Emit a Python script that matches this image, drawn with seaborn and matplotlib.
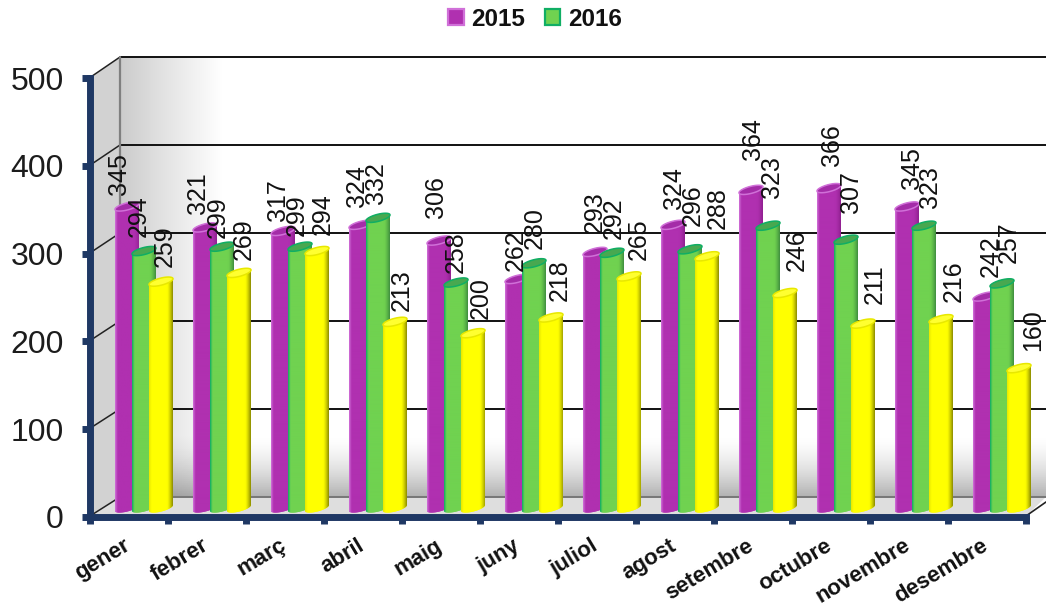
import numpy as np
import pandas as pd
import matplotlib
matplotlib.use("Agg")
import matplotlib.pyplot as plt
from matplotlib.colors import to_rgb
from matplotlib.patches import Patch, Polygon
from matplotlib.transforms import ScaledTranslation
import seaborn as sns

months = ["gener", "febrer", "març", "abril", "maig", "juny", "juliol", "agost",
          "setembre", "octubre", "novembre", "desembre"]
series_a = [345, 321, 317, 324, 306, 262, 293, 324, 364, 366, 345, 242]
series_b = [294, 299, 299, 332, 258, 280, 292, 296, 323, 307, 323, 257]
series_c = [259, 269, 294, 213, 200, 218, 265, 288, 246, 211, 216, 160]
series_names = ["2015", "2016", "sèrie 3"]
y_ticks = [0, 100, 200, 300, 400, 500]

body_colors = ["#B030B0", "#70D250", "#FFFF00"]
edge_colors = ["#D070D8", "#10AE64", "#E8E800"]
cap_colors = ["#A42CA8", "#48A850", "#FFFF30"]
right_colors = ["#902090", "#40903F", "#8E8E00"]

# label placement styling (pixels)
label_dx_first = [-8, -5, 4]
label_dx_last = [6, 7, 14]
gaps_a = [6, 8, 4, 12, 17, 3, 13, 10, 24, 17, 12, 14]
gaps_b = [9, 3, 5, 8, 4, 9, 8, 18, 22, 21, 12, 15]
gaps_c = [9, 7, 11, 5, 9, 11, 11, 22, 16, 14, 12, 12]
label_gaps = [gaps_a, gaps_b, gaps_c]

W, H = 1046, 612
sns.set_theme(style="white")
plt.rcParams["font.family"] = ["Liberation Sans", "DejaVu Sans"]
fig = plt.figure(figsize=(W / 100, H / 100), dpi=100, facecolor="white")


def axes_px(x0, x1, ytop, ybot):
    return fig.add_axes([x0 / W, 1 - ybot / H, (x1 - x0) / W, (ybot - ytop) / H])


# ---------- background: walls of the 3-D box, in pixel coordinates ----------
bg = axes_px(0, W, 0, H)
bg.set_xlim(0, W)
bg.set_ylim(H, 0)
bg.axis("off")
bg.set_zorder(0)

xs = np.linspace(0, 1, 460)
ys = np.linspace(0, 1, 220)
gx = np.clip(xs / 0.11, 0, 1)
gy = np.clip((ys - 0.86) / 0.14, 0, 1)
shade = (0.80 + 0.20 * gx)[None, :] * (1 - 0.30 * gy ** 1.6)[:, None]
bg.imshow(shade, cmap="gray", vmin=0, vmax=1, extent=(120, W, 497, 57), aspect="auto", zorder=1)
bg.set_xlim(0, W)
bg.set_ylim(H, 0)
bg.add_patch(Polygon([(90, 78), (120, 57), (120, 497), (90, 516)], fc="#D2D2D2", ec="none", zorder=2))
bg.add_patch(Polygon([(90, 516), (120, 497), (W, 497), (1026, 516)], fc="#DEDEDE", ec="none", zorder=2))
for v in y_ticks:
    yb = 497 - v * 0.88
    yf = 516 - v * 0.877
    c = "#777777" if v == 0 else "#111111"
    bg.plot([120, W], [yb, yb], color=c, lw=1.4, zorder=3)
    bg.plot([90, 120], [yf, yb], color="#222222", lw=1.1, zorder=3)
bg.plot([120, 120], [57, 497], color="#808080", lw=1.6, zorder=3)
bg.plot([1026, W], [516, 502], color="#222222", lw=1.2, zorder=3)

# ---------- front axes: the value and month scales ----------
front = axes_px(90, 1026, 78, 517)
front.set_zorder(1)
front.patch.set_alpha(0)
front.set_xlim(-0.5, 11.5)
front.set_ylim(0, 500)
for s in ("top", "right"):
    front.spines[s].set_visible(False)
for s in ("left", "bottom"):
    front.spines[s].set_color("#1F3864")
    front.spines[s].set_linewidth(5)
front.set_yticks(y_ticks)
front.set_yticklabels([str(v) for v in y_ticks], fontsize=23, color="#1C1C1C")
front.tick_params(axis="y", length=6, width=5, color="#1F3864", pad=13, direction="out", left=True)
front.set_xticks(np.arange(12))
front.set_xticklabels(months, rotation=31, ha="right", rotation_mode="anchor",
                      fontsize=16, fontweight="bold", color="#111111")
front.tick_params(axis="x", which="major", length=0, pad=13, bottom=False)
shift = ScaledTranslation(-6 / 100, 0, fig.dpi_scale_trans)
for lab in front.get_xticklabels():
    lab.set_transform(lab.get_transform() + shift)
front.set_xticks(np.arange(-0.5, 12), minor=True)
front.tick_params(axis="x", which="minor", length=5, width=5, color="#1F3864", bottom=True)
front.grid(False)

# ---------- bars ----------
px_x = 936 / 12.0
px_y = 437 / 500.0
ax = axes_px(105, 1041, 71, 508 + 20 * px_y)
ax.set_zorder(2)
ax.patch.set_alpha(0)
df = pd.DataFrame({
    "mes": months * 3,
    "sèrie": [n for n in series_names for _ in months],
    "valor": series_a + series_b + series_c,
})
sns.barplot(data=df, x="mes", y="valor", hue="sèrie", order=months, hue_order=series_names,
            palette=body_colors, width=0.654, saturation=1, legend=False, ax=ax,
            errorbar=None, edgecolor="none", linewidth=0, dodge=True)
ax.set_xlim(-0.5, 11.5)
ax.set_ylim(-20, 500)
ax.axis("off")
fig.canvas.draw()

bar_w = 24 / px_x


def ellipse(xc, val, half_w_px=12, half_h_px=3.6, slope=0.24):
    t = np.linspace(0, 2 * np.pi, 61)
    dx = half_w_px * np.cos(t)
    dy = half_h_px * np.sin(t) + slope * half_w_px * np.cos(t)
    return np.column_stack([xc + dx / px_x, val + dy / px_y])


for k, cont in enumerate(ax.containers):
    z = 3 + k
    top_rgb = np.array(to_rgb(body_colors[k]))
    edge_rgb = np.array(to_rgb(edge_colors[k]))
    right_rgb = np.array(to_rgb(right_colors[k]))
    u = np.linspace(0, 1, 48)
    left = np.clip(u / 0.1, 0, 1)[:, None]
    right = np.clip((u - 0.76) / 0.24, 0, 1)[:, None] ** 1.4
    ramp = edge_rgb * (1 - left) + top_rgb * left
    ramp = ramp * (1 - right) + right_rgb * right
    ramp = ramp[None, :, :]
    for i, bar in enumerate(cont):
        val = bar.get_height()
        xc = bar.get_x() + bar.get_width() / 2
        bar.set_visible(False)
        lo = ellipse(xc, 0)
        hi = ellipse(xc, val)
        outline = np.vstack([lo[30:], hi[:31]])
        body = Polygon(outline, closed=True, fc=body_colors[k], ec="none", zorder=z)
        ax.add_patch(body)
        im = ax.imshow(ramp, extent=(xc - bar_w / 2, xc + bar_w / 2, -15, val + 10),
                       aspect="auto", zorder=z + 0.1, interpolation="bilinear")
        im.set_clip_path(body)
        ax.add_patch(Polygon(hi, closed=True, fc=cap_colors[k], ec=edge_colors[k], lw=1.1, zorder=z + 0.2))
        dx = label_dx_first[k] + (label_dx_last[k] - label_dx_first[k]) * i / 11
        gap = label_gaps[k][i] + 5.5
        ax.annotate(f"{int(val)}", xy=(xc, val), xytext=(dx * 0.72, gap * 0.72),
                    textcoords="offset points", rotation=90, ha="center", va="bottom",
                    fontsize=18, color="#111111", zorder=20, annotation_clip=False)
ax.set_xlim(-0.5, 11.5)
ax.set_ylim(-20, 500)

# ---------- legend ----------
handles = [Patch(facecolor=body_colors[i], edgecolor=edge_colors[i], linewidth=1.6, label=series_names[i])
           for i in range(2)]
fig.legend(handles=handles, loc="center", bbox_to_anchor=(535 / W, 1 - 19 / H), ncol=2, frameon=False,
           prop={"weight": "bold", "size": 17.5}, handlelength=0.62, handleheight=0.62,
           handletextpad=0.3, columnspacing=0.85, labelcolor="#111111")

fig.savefig("out.png", dpi=100, facecolor="white")
